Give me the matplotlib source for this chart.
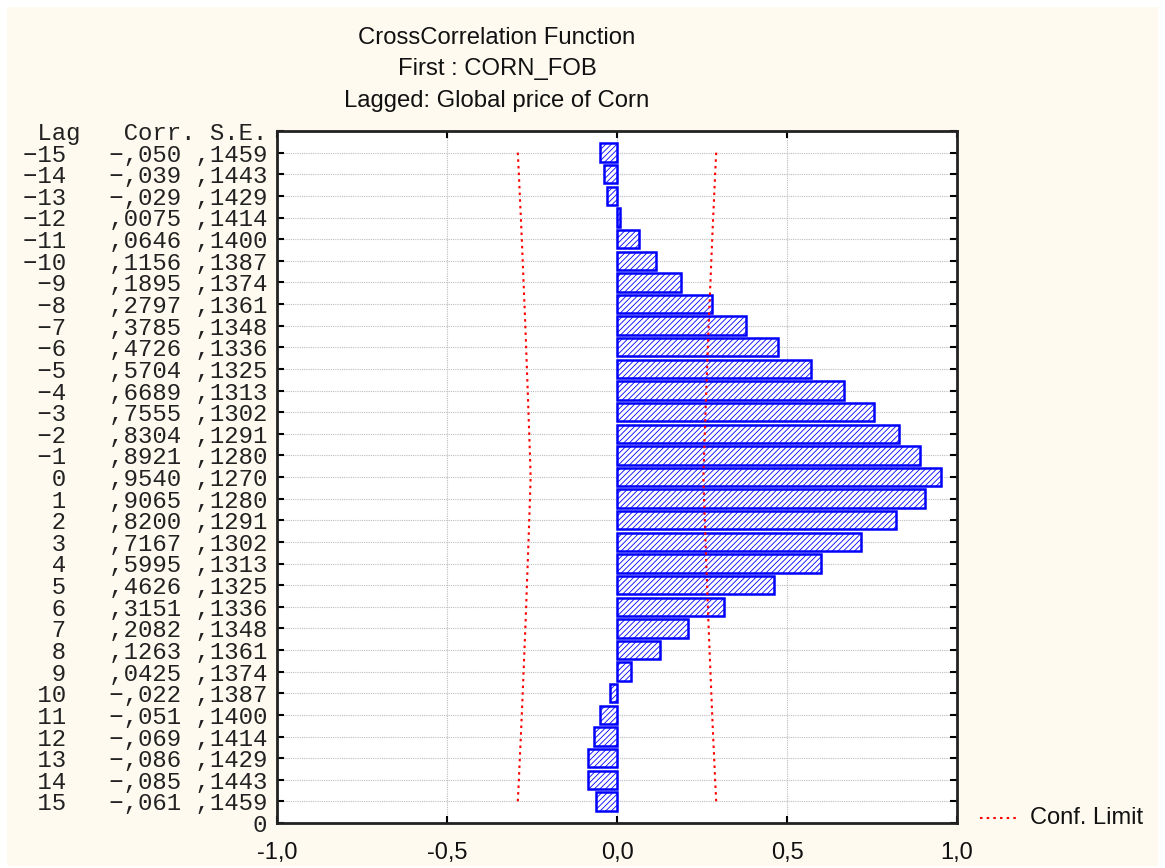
import matplotlib
matplotlib.use("Agg")
import matplotlib.pyplot as plt
from matplotlib.patches import Rectangle
from matplotlib.lines import Line2D
import numpy as np

lags = list(range(-15, 16))
corr = [-0.050, -0.039, -0.029, 0.0075, 0.0646, 0.1156, 0.1895, 0.2797, 0.3785,
        0.4726, 0.5704, 0.6689, 0.7555, 0.8304, 0.8921, 0.9540, 0.9065, 0.8200,
        0.7167, 0.5995, 0.4626, 0.3151, 0.2082, 0.1263, 0.0425, -0.022, -0.051,
        -0.069, -0.086, -0.085, -0.061]
se = [0.1459, 0.1443, 0.1429, 0.1414, 0.1400, 0.1387, 0.1374, 0.1361, 0.1348,
      0.1336, 0.1325, 0.1313, 0.1302, 0.1291, 0.1280, 0.1270, 0.1280, 0.1291,
      0.1302, 0.1313, 0.1325, 0.1336, 0.1348, 0.1361, 0.1374, 0.1387, 0.1400,
      0.1414, 0.1429, 0.1443, 0.1459]
xticks = [-1.0, -0.5, 0.0, 0.5, 1.0]
xticklabels = ["-1,0", "-0,5", "0,0", "0,5", "1,0"]
title_lines = ["CrossCorrelation Function", "First : CORN_FOB",
               "Lagged: Global price of Corn"]
header = " Lag   Corr. S.E."

W, H = 1165, 868
fig = plt.figure(figsize=(W / 100, H / 100), dpi=100, facecolor="white")
fig.patches.append(Rectangle((7 / W, 2 / H), (1158 - 7) / W, (866 - 7) / H,
                             transform=fig.transFigure, facecolor="#fefaf0",
                             edgecolor="none", zorder=-10))

ax = fig.add_axes([277 / W, 1 - 823 / H, 680 / W, 692 / H])
ax.set_facecolor("white")

n = len(lags)
pos = np.array([n - i for i in range(n)])  # lag -15 at top

plt.rcParams["hatch.linewidth"] = 0.6
ax.barh(pos, corr, height=0.85, left=0, facecolor="white", edgecolor="#0000ff",
        linewidth=1.8, hatch="//////", zorder=3)

lim = 2 * np.array(se)
ls = (0, (1.2, 2.0))
ax.plot(lim, pos, color="red", linestyle=ls, linewidth=1.5, zorder=4)
ax.plot(-lim, pos, color="red", linestyle=ls, linewidth=1.5, zorder=4)

MINUS = "\u2212"

def fmt_corr(v):
    if v < 0:
        s = f"{v:.3f}"
    else:
        s = f"{v:.4f}"
    return s.replace("0.", ".", 1).replace(".", ",").replace("-", MINUS)

def fmt_se(v):
    return f"{v:.4f}".replace("0.", ".", 1).replace(".", ",")

def fmt_lag(l):
    return f"{l:>3}".replace("-", MINUS)

labels = [f"{fmt_lag(lag)}   {fmt_corr(c):>5} {fmt_se(s)}" for lag, c, s in zip(lags, corr, se)]
yt = [0] + list(pos) + [n + 1]
yl = ["0"] + labels + [header]
ax.set_yticks(yt)
ax.set_yticklabels(yl, fontfamily="Liberation Mono", fontsize=17.3, color="#222222")
ax.set_ylim(0, n + 1)

ax.set_xlim(-1, 1)
ax.set_xticks(xticks)
ax.set_xticklabels(xticklabels, fontfamily="Liberation Sans", fontsize=17, color="#111111")

ax.tick_params(axis="both", direction="in", top=True, right=True, length=5,
               width=1.5, color="black")
ax.tick_params(axis="y", pad=7)
ax.tick_params(axis="x", pad=14)
for sp in ax.spines.values():
    sp.set_linewidth(2)
    sp.set_color("#222222")

ax.grid(True, color="#bdbdbd", linestyle=(0, (1, 1)), linewidth=0.8, zorder=0)
ax.set_axisbelow(True)

ys = [1 - 38 / H, 1 - 69 / H, 1 - 101 / H]
for t, y in zip(title_lines, ys):
    fig.text(497 / W, y, t, ha="center", va="center", fontfamily="Liberation Sans",
             fontsize=17.2, color="#111111")

fig.lines.append(Line2D([980 / W, 1016 / W], [1 - 818 / H, 1 - 818 / H],
                        transform=fig.transFigure, color="red",
                        linestyle=ls, linewidth=1.5))
fig.text(1030 / W, 1 - 818 / H, "Conf. Limit", ha="left", va="center",
         fontfamily="Liberation Sans", fontsize=17, color="#111111")

fig.savefig("out.png", dpi=100, facecolor=fig.get_facecolor())
